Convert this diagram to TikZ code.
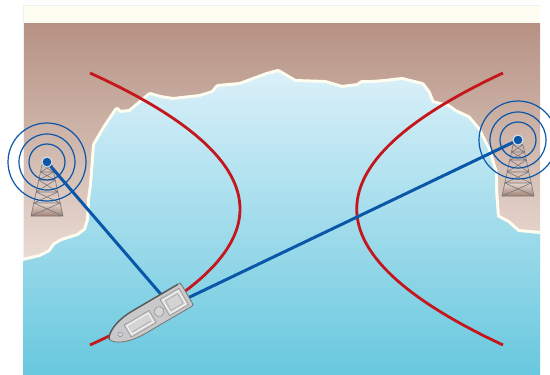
\documentclass[tikz,border=0pt]{standalone}
\usepackage{xcolor}
\usepackage{tikz}
\usetikzlibrary{positioning}
\definecolor{LandTop}{RGB}{182,146,132}
\definecolor{LandLow}{RGB}{235,221,213}
\definecolor{SeaTop}{RGB}{218,240,249}
\definecolor{SeaLow}{RGB}{104,200,222}
\definecolor{Shore}{RGB}{255,253,240}
\definecolor{SkyStrip}{RGB}{253,253,242}
\definecolor{SignalBlue}{RGB}{10,86,168}
\definecolor{LineRed}{RGB}{196,22,28}
\definecolor{MastGrey}{RGB}{118,118,122}
\definecolor{HullGrey}{RGB}{201,201,203}

% coastline, left shore round to right shore
\newcommand{\coast}{(23,261) -- (40,257) -- (50,252) -- (55,245) -- (62,241) -- (78,236)
  -- (86,230) -- (89,220) -- (90,200) -- (92,185) -- (95,145) -- (105,128) -- (117,110)
  -- (120,113) -- (130,112) -- (150,95) -- (160,98) -- (173,100) -- (200,97) -- (213,93)
  -- (218,87) -- (240,85) -- (267,75) -- (278,72) -- (295,82) -- (325,83) -- (342,88)
  -- (358,86) -- (362,83) -- (372,83) -- (385,82) -- (402,80) -- (422,85) -- (428,93)
  -- (432,103) -- (448,107) -- (455,112) -- (468,118) -- (478,130) -- (488,150)
  -- (495,173) -- (495,190) -- (497,217) -- (508,223) -- (518,232) -- (540,234)}

\begin{document}
\begin{tikzpicture}[x=1pt, y=-1pt,
  beacon/.style={circle, fill=SignalBlue, draw=white!85!SignalBlue, line width=1pt,
    inner sep=0pt, minimum size=10pt},
  ring/.style={draw=SignalBlue, line width=1.2pt},
  bearing/.style={draw=SignalBlue, line width=3pt},
  lop/.style={draw=LineRed, line width=2.8pt},
  mast/.style={draw=MastGrey, line width=0.6pt},
  hull/.style={fill=HullGrey, draw=black!55, line width=0.8pt},
  deck/.style={fill=HullGrey!80!white, draw=black!45, line width=0.5pt}
]
\useasboundingbox (0,0) rectangle (550,375);

% land, sky strip and sea
\shade[top color=LandTop, bottom color=LandLow] (23,23) rectangle (540,265);
\fill[SkyStrip] (23,5) rectangle (540,23);
\draw[black!6, line width=0.5pt] (23,375) -- (23,5) -- (540,5);
\draw[Shore, line width=6pt, line join=round] \coast;
\shade[top color=SeaTop, bottom color=SeaLow] \coast -- (540,375) -- (23,375) -- cycle;

% lines of position
\draw[lop] (90,73) .. controls (290,164) and (290,254) .. (90,345);
\draw[lop] (503,73) .. controls (308,164) and (308,254) .. (503,345);

% lattice masts
\foreach \mx/\my in {47/165, 518/145} {
  \begin{scope}[shift={(\mx,\my)}]
    \shade[top color=LandLow!90!LandTop, bottom color=LandTop!90!black]
      (-13.2,38) -- (13.2,38) -- (16,51) -- (-16,51) -- cycle;
    \draw[mast] (0,-3) -- (-5,0) -- (-16,51) (0,-3) -- (5,0) -- (16,51) (-5,0) -- (5,0);
    \foreach \ya/\wa/\yb/\wb in {0/5/7/6.5, 7/6.5/15/8.2, 15/8.2/27/10.8,
                                 27/10.8/38/13.2, 38/13.2/51/16}
      \draw[mast] (-\wa,\ya) -- (\wb,\yb) (\wa,\ya) -- (-\wb,\yb) (-\wb,\yb) -- (\wb,\yb);
  \end{scope}
}

\node[beacon] (westmast) at (47,162) {};
\node[beacon] (eastmast) at (518,140) {};
\coordinate (fix) at (171,306);

\foreach \r in {18,28,39} {
  \draw[ring] (westmast.center) circle (\r);
  \draw[ring] (eastmast.center) circle (\r);
}

\draw[bearing] (westmast) -- (fix);
\draw[bearing] (eastmast) -- (fix);

% the boat
\begin{scope}[shift={(187,294)}, rotate=210.4]
  \draw[hull] (0,-10) .. controls (0,-13) .. (3,-13) -- (55,-13)
    .. controls (76,-13) and (88,-6) .. (90,0) .. controls (88,6) and (76,13) .. (55,13)
    -- (3,13) .. controls (0,13) .. (0,10) -- cycle;
  \draw[black!65, line width=1.4pt] (3,13) -- (55,13) .. controls (76,13) and (88,6) .. (90,0);
  \draw[deck] (4,-10) rectangle (26,9);
  \draw[white, line width=0.6pt] (6,-8) rectangle (24,7);
  \draw[black!40, line width=0.4pt] (8,-6) rectangle (22,5);
  \draw[deck] (33,-1) circle (5);
  \draw[deck] (41,-9) rectangle (70,5);
  \draw[white, line width=0.6pt] (43,-7) rectangle (68,3);
  \draw[black!40, line width=0.4pt] (45,-5) -- (66,-5);
  \draw[deck] (78,-1) circle (2.3);
\end{scope}
\end{tikzpicture}
\end{document}
